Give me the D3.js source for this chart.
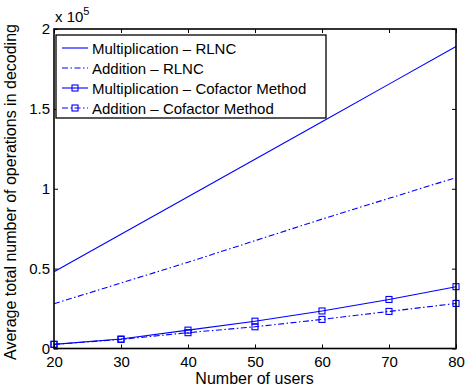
<!DOCTYPE html>
<html>
<head>
<meta charset="utf-8">
<script src="https://cdn.jsdelivr.net/npm/d3@7"></script>
<style>
  body { margin: 0; background: #fff; }
  svg { font-family: "Liberation Sans", Arial, sans-serif; }
</style>
</head>
<body>
<svg id="chart" width="466" height="388"></svg>
<script>
// data, values in units of 1e5
let users = [20, 30, 40, 50, 60, 70, 80];
let multRLNC = [0.48, 0.715, 0.95, 1.185, 1.42, 1.655, 1.89];
let addRLNC = [0.28, 0.41, 0.54, 0.675, 0.81, 0.94, 1.07];
let multCofactor = [0.026, 0.059, 0.115, 0.171, 0.235, 0.307, 0.387];
let addCofactor = [0.026, 0.057, 0.099, 0.136, 0.182, 0.232, 0.282];
let xTicks = [20, 30, 40, 50, 60, 70, 80];
let yTicks = [0, 0.5, 1, 1.5, 2];
let seriesNames = ["Multiplication \u2013 RLNC", "Addition \u2013 RLNC",
                   "Multiplication \u2013 Cofactor Method", "Addition \u2013 Cofactor Method"];

let pLeft = 54, pRight = 456, pTop = 29, pBottom = 348.5;
let blue = "#0000ff";
let dashDot = "6,2.5,1.5,2.5";

let series = [
    {name: seriesNames[0], values: multRLNC, dash: null, marker: false},
    {name: seriesNames[1], values: addRLNC, dash: dashDot, marker: false},
    {name: seriesNames[2], values: multCofactor, dash: null, marker: true},
    {name: seriesNames[3], values: addCofactor, dash: dashDot, marker: true}
];

let svg = d3.select("#chart");
svg.append("rect").attr("width", 466).attr("height", 388).attr("fill", "#fff");

let x = d3.scaleLinear().domain([20, 80]).range([pLeft, pRight]);
let y = d3.scaleLinear().domain([0, 2]).range([pBottom, pTop]);

// axes, ticks inside like matlab
let fmt = d => d3.format("~g")(d);
let axB = svg.append("g").attr("transform", "translate(0," + pBottom + ")")
    .call(d3.axisBottom(x).tickValues(xTicks).tickSizeInner(-4).tickSizeOuter(0).tickPadding(8).tickFormat(fmt));
let axT = svg.append("g").attr("transform", "translate(0," + pTop + ")")
    .call(d3.axisTop(x).tickValues(xTicks).tickSizeInner(-4).tickSizeOuter(0).tickFormat(""));
let axL = svg.append("g").attr("transform", "translate(" + pLeft + ",0)")
    .call(d3.axisLeft(y).tickValues(yTicks).tickSizeInner(-4).tickSizeOuter(0).tickPadding(4).tickFormat(fmt));
let axR = svg.append("g").attr("transform", "translate(" + pRight + ",0)")
    .call(d3.axisRight(y).tickValues(yTicks).tickSizeInner(-4).tickSizeOuter(0).tickFormat(""));

[axB, axT, axL, axR].forEach(function(a) {
    a.select(".domain").remove();
    a.selectAll("line").attr("stroke", "#000").attr("stroke-width", 1);
    a.selectAll("text").attr("font-family", "Liberation Sans, Arial, sans-serif")
        .attr("font-size", 15).attr("fill", "#000");
});

// line series
let line = d3.line().x((d, i) => x(users[i])).y(d => y(d));
let g = svg.append("g");
series.forEach(function(s) {
    g.append("path").datum(s.values).attr("d", line)
        .attr("fill", "none").attr("stroke", blue).attr("stroke-width", 1.1)
        .attr("stroke-dasharray", s.dash);
    if (s.marker) {
        g.selectAll(null).data(s.values).enter().append("rect")
            .attr("x", (d, i) => x(users[i]) - 3).attr("y", d => y(d) - 3)
            .attr("width", 6).attr("height", 6)
            .attr("fill", "none").attr("stroke", blue).attr("stroke-width", 1.1);
    }
});

// box
svg.append("rect").attr("x", pLeft).attr("y", pTop)
    .attr("width", pRight - pLeft).attr("height", pBottom - pTop)
    .attr("fill", "none").attr("stroke", "#000").attr("stroke-width", 1.6);

// exponent label
let ex = svg.append("text").attr("x", 55).attr("y", 22).attr("font-size", 15);
ex.append("tspan").text("x 10");
ex.append("tspan").attr("dy", -7).attr("font-size", 11).text("5");

// axis titles
svg.append("text").attr("x", 254.5).attr("y", 383.5)
    .attr("text-anchor", "middle").attr("font-size", 16).text("Number of users");
svg.append("text").attr("transform", "translate(16,192) rotate(-90)")
    .attr("text-anchor", "middle").attr("font-size", 16)
    .text("Average total number of operations in decoding");

// legend
let leg = svg.append("g");
leg.append("rect").attr("x", 56).attr("y", 35).attr("width", 270).attr("height", 83)
    .attr("fill", "#fff").attr("stroke", "#000").attr("stroke-width", 1.3);
series.forEach(function(s, i) {
    let ly = 48 + i * 20;
    leg.append("line").attr("x1", 62).attr("x2", 88).attr("y1", ly).attr("y2", ly)
        .attr("stroke", blue).attr("stroke-width", 1.1).attr("stroke-dasharray", s.dash);
    if (s.marker) {
        leg.append("rect").attr("x", 72).attr("y", ly - 3).attr("width", 6).attr("height", 6)
            .attr("fill", "none").attr("stroke", blue).attr("stroke-width", 1.1);
    }
    leg.append("text").attr("x", 92).attr("y", ly + 5.5).attr("font-size", 15).text(s.name);
});
</script>
</body>
</html>
